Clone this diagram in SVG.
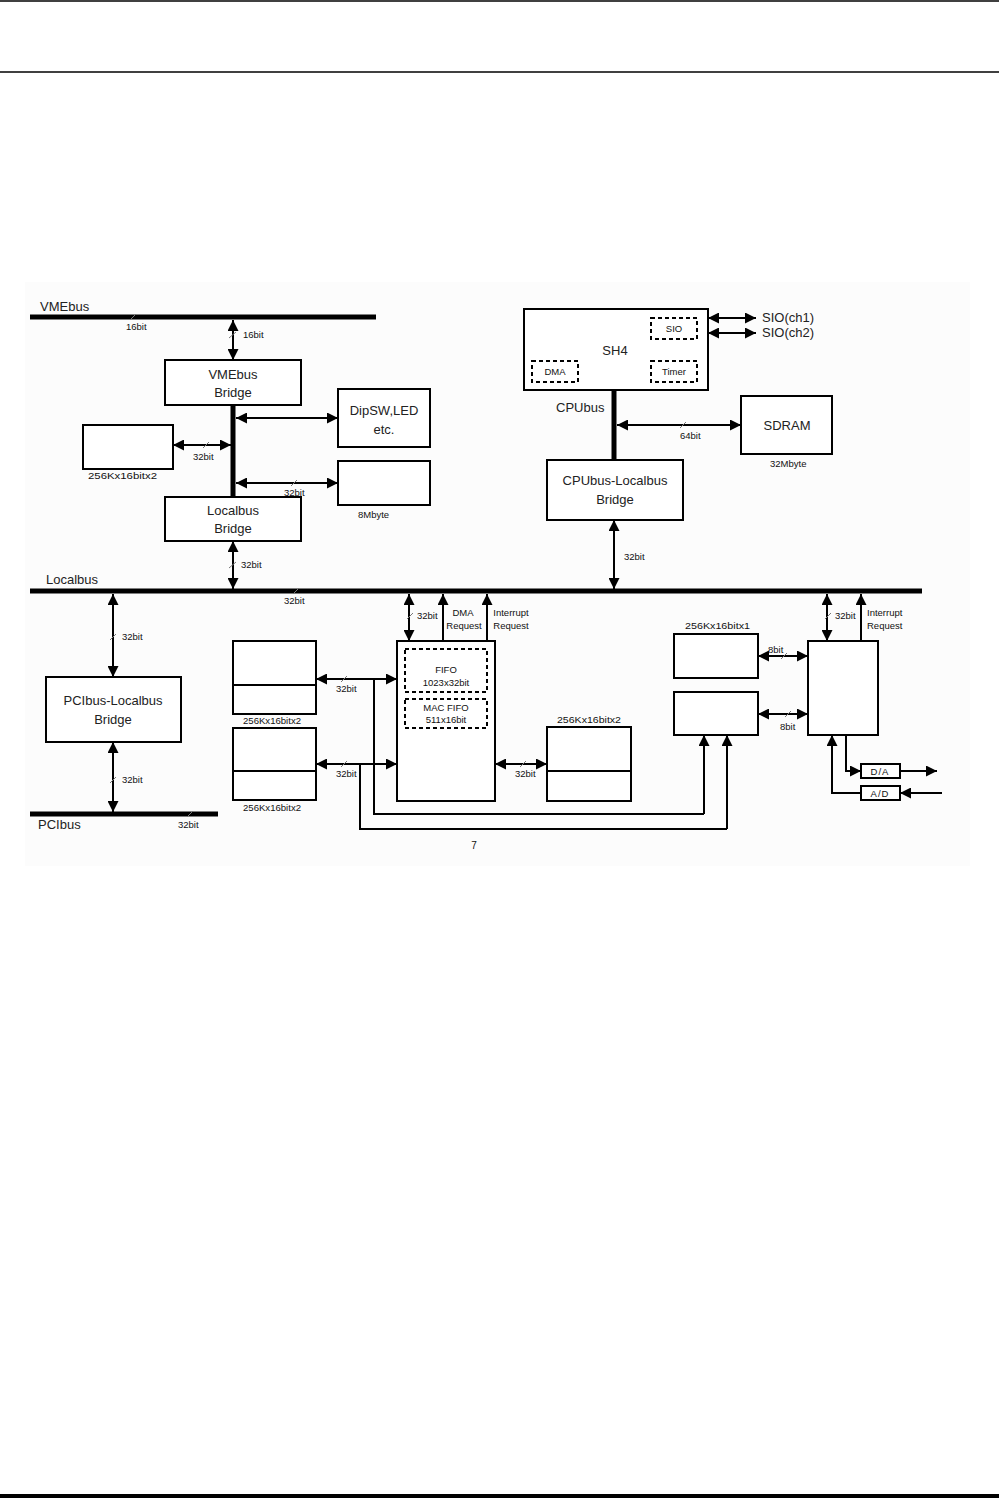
<svg xmlns="http://www.w3.org/2000/svg" width="999" height="1498" viewBox="0 0 999 1498">
<defs>
<marker id="ah" viewBox="0 0 10 10" refX="10" refY="5" markerWidth="11" markerHeight="11" markerUnits="userSpaceOnUse" orient="auto-start-reverse"><path d="M0,0 L10,5 L0,10 z" fill="#000"/></marker>
<style>
.bx{fill:#fff;stroke:#000;stroke-width:2}
.ds{fill:none;stroke:#000;stroke-width:2;stroke-dasharray:4,3}
.bus{stroke:#000;stroke-width:5;fill:none}
.ln{stroke:#000;stroke-width:2;fill:none}
.a2{stroke:#000;stroke-width:2;fill:none;marker-start:url(#ah);marker-end:url(#ah)}
.a1{stroke:#000;stroke-width:2;fill:none;marker-end:url(#ah)}
.tk{stroke:#777;stroke-width:1}
.t{font-family:"Liberation Sans","Noto Sans CJK JP",sans-serif;font-size:13px;fill:#222}
.tc{font-family:"Liberation Sans","Noto Sans CJK JP",sans-serif;font-size:13px;fill:#222;text-anchor:middle}
.s{font-family:"Liberation Sans","Noto Sans CJK JP",sans-serif;font-size:9.5px;fill:#111}
.sc{font-family:"Liberation Sans","Noto Sans CJK JP",sans-serif;font-size:9.5px;fill:#111;text-anchor:middle}
</style>
</defs>
<rect x="0" y="0" width="999" height="1498" fill="#fff"/>
<line x1="0" y1="1" x2="999" y2="1" stroke="#000" stroke-width="1.5"/>
<line x1="0" y1="72" x2="999" y2="72" stroke="#000" stroke-width="1.5"/>
<rect x="0" y="1494" width="999" height="4" fill="#000"/>
<rect x="25" y="282" width="945" height="584" fill="#fcfcfc"/>

<g id="connectors">
<line class="bus" x1="30" y1="317" x2="376" y2="317"/>
<line class="bus" x1="30" y1="591" x2="922" y2="591"/>
<line class="bus" x1="30" y1="814" x2="218" y2="814"/>
<line class="bus" x1="233" y1="405" x2="233" y2="497"/>
<line class="bus" x1="614" y1="390" x2="614" y2="460"/>
<line class="a2" x1="233" y1="320" x2="233" y2="360"/>
<line class="a2" x1="236" y1="418" x2="338" y2="418"/>
<line class="a2" x1="173" y1="445" x2="231" y2="445"/>
<line class="a2" x1="236" y1="483" x2="338" y2="483"/>
<line class="a2" x1="233" y1="541" x2="233" y2="589"/>
<line class="a2" x1="708" y1="318" x2="756" y2="318"/>
<line class="a2" x1="708" y1="333" x2="756" y2="333"/>
<line class="a2" x1="617" y1="425" x2="741" y2="425"/>
<line class="a2" x1="614" y1="520" x2="614" y2="589"/>
<line class="a2" x1="113" y1="594" x2="113" y2="677"/>
<line class="a2" x1="113" y1="742" x2="113" y2="812"/>
<line class="a2" x1="409" y1="594" x2="409" y2="641"/>
<line class="a1" x1="443" y1="641" x2="443" y2="594"/>
<line class="a1" x1="487" y1="641" x2="487" y2="594"/>
<line class="a2" x1="316" y1="679" x2="397" y2="679"/>
<line class="a2" x1="316" y1="764" x2="397" y2="764"/>
<line class="a2" x1="495" y1="764" x2="547" y2="764"/>
<path class="ln" d="M374,679 V814 H704"/>
<line class="a1" x1="704" y1="814" x2="704" y2="735"/>
<path class="ln" d="M360,764 V829 H727"/>
<line class="a1" x1="727" y1="829" x2="727" y2="735"/>
<line class="a2" x1="758" y1="656" x2="808" y2="656"/>
<line class="a2" x1="758" y1="714" x2="808" y2="714"/>
<line class="a2" x1="827" y1="594" x2="827" y2="641"/>
<line class="a1" x1="861" y1="641" x2="861" y2="594"/>
<path class="a1" d="M846,735 V771 H861"/>
<line class="a1" x1="900" y1="771" x2="937" y2="771"/>
<line class="a1" x1="942" y1="793" x2="900" y2="793"/>
<path class="a1" d="M861,793 H832 V735"/>
<g>
<line class="tk" x1="130" y1="320" x2="136" y2="314"/>
<line class="tk" x1="229" y1="338" x2="236" y2="332"/>
<line class="tk" x1="203" y1="448" x2="209" y2="442"/>
<line class="tk" x1="291" y1="486" x2="297" y2="480"/>
<line class="tk" x1="229" y1="568" x2="236" y2="562"/>
<line class="tk" x1="293" y1="594" x2="299" y2="588"/>
<line class="tk" x1="680" y1="428" x2="686" y2="422"/>
<line class="tk" x1="110" y1="640" x2="116" y2="634"/>
<line class="tk" x1="110" y1="783" x2="116" y2="777"/>
<line class="tk" x1="187" y1="817" x2="193" y2="811"/>
<line class="tk" x1="407" y1="619" x2="413" y2="613"/>
<line class="tk" x1="341" y1="682" x2="347" y2="676"/>
<line class="tk" x1="341" y1="767" x2="347" y2="761"/>
<line class="tk" x1="520" y1="767" x2="526" y2="761"/>
<line class="tk" x1="781" y1="659" x2="787" y2="653"/>
<line class="tk" x1="785" y1="717" x2="791" y2="711"/>
<line class="tk" x1="825" y1="619" x2="831" y2="613"/>
</g>
</g>

<g id="labels">
<text class="t" x="40" y="311">VMEbus</text>
<text class="s" x="126" y="330">16bit</text>
<text class="s" x="243" y="338">16bit</text>
<text class="s" x="193" y="460">32bit</text>
<text class="s" x="284" y="496">32bit</text>
<text class="s" x="241" y="568">32bit</text>
<text class="t" x="46" y="584">Localbus</text>
<text class="s" x="284" y="604">32bit</text>
<text class="t" x="762" y="322">SIO(ch1)</text>
<text class="t" x="762" y="337">SIO(ch2)</text>
<text class="t" x="556" y="412">CPUbus</text>
<text class="s" x="680" y="439">64bit</text>
<text class="s" x="624" y="560">32bit</text>
<text class="s" x="122" y="640">32bit</text>
<text class="s" x="122" y="783">32bit</text>
<text class="t" x="38" y="829">PCIbus</text>
<text class="s" x="178" y="828">32bit</text>
<text class="s" x="417" y="619">32bit</text>
<text class="sc" x="463" y="616">DMA</text>
<text class="sc" x="464" y="629">Request</text>
<text class="sc" x="511" y="616">Interrupt</text>
<text class="sc" x="511" y="629">Request</text>
<text class="s" x="336" y="692">32bit</text>
<text class="s" x="336" y="777">32bit</text>
<text class="s" x="515" y="777">32bit</text>
<text class="s" x="768" y="653">8bit</text>
<text class="s" x="780" y="730">8bit</text>
<text class="s" x="835" y="619">32bit</text>
<text class="s" x="867" y="616">Interrupt</text>
<text class="s" x="867" y="629">Request</text>
<text class="sc" x="474" y="849" style="font-size:10px">7</text>
</g>

<g id="vmebus-bridge">
<rect class="bx" x="165" y="360" width="136" height="45"/>
<text class="tc" x="233" y="379">VMEbus</text>
<text class="tc" x="233" y="397">Bridge</text>
</g>
<g id="dipsw">
<rect class="bx" x="338" y="389" width="92" height="58"/>
<text class="tc" x="384" y="415">DipSW,LED</text>
<text class="tc" x="384" y="434">etc.</text>
</g>
<g id="mem-vme">
<rect class="bx" x="83" y="425" width="90" height="44"/>
<text class="s" x="88" y="479" textLength="69" lengthAdjust="spacingAndGlyphs">256Kx16bitx2</text>
</g>
<g id="mem-8m">
<rect class="bx" x="338" y="461" width="92" height="44"/>
<text class="s" x="358" y="518">8Mbyte</text>
</g>
<g id="localbus-bridge">
<rect class="bx" x="165" y="497" width="136" height="44"/>
<text class="tc" x="233" y="515">Localbus</text>
<text class="tc" x="233" y="533">Bridge</text>
</g>
<g id="sh4">
<rect class="bx" x="524" y="309" width="184" height="81"/>
<text class="tc" x="615" y="355">SH4</text>
<rect class="ds" x="651" y="318" width="46" height="21"/>
<text class="sc" x="674" y="332">SIO</text>
<rect class="ds" x="532" y="361" width="46" height="21"/>
<text class="sc" x="555" y="375">DMA</text>
<rect class="ds" x="651" y="361" width="46" height="21"/>
<text class="sc" x="674" y="375">Timer</text>
</g>
<g id="sdram">
<rect class="bx" x="741" y="396" width="91" height="58"/>
<text class="tc" x="787" y="430">SDRAM</text>
<text class="s" x="770" y="467">32Mbyte</text>
</g>
<g id="cpubus-bridge">
<rect class="bx" x="547" y="460" width="136" height="60"/>
<text class="tc" x="615" y="485">CPUbus-Localbus</text>
<text class="tc" x="615" y="504">Bridge</text>
</g>
<g id="pci-bridge">
<rect class="bx" x="46" y="677" width="135" height="65"/>
<text class="tc" x="113" y="705">PCIbus-Localbus</text>
<text class="tc" x="113" y="724">Bridge</text>
</g>
<g id="mem-left-1">
<rect class="bx" x="233" y="641" width="83" height="73"/>
<line class="ln" x1="233" y1="685" x2="316" y2="685"/>
<text class="s" x="243" y="724" textLength="58" lengthAdjust="spacingAndGlyphs">256Kx16bitx2</text>
</g>
<g id="mem-left-2">
<rect class="bx" x="233" y="728" width="83" height="72"/>
<line class="ln" x1="233" y1="771" x2="316" y2="771"/>
<text class="s" x="243" y="811" textLength="58" lengthAdjust="spacingAndGlyphs">256Kx16bitx2</text>
</g>
<g id="fifo-chip">
<rect class="bx" x="397" y="641" width="98" height="160"/>
<rect class="ds" x="405" y="649" width="82" height="43"/>
<text class="sc" x="446" y="673">FIFO</text>
<text class="sc" x="446" y="686">1023x32bit</text>
<rect class="ds" x="405" y="699" width="82" height="29"/>
<text class="sc" x="446" y="711">MAC FIFO</text>
<text class="sc" x="446" y="723">511x16bit</text>
</g>
<g id="mem-right">
<rect class="bx" x="547" y="727" width="84" height="74"/>
<line class="ln" x1="547" y1="771" x2="631" y2="771"/>
<text class="s" x="557" y="723" textLength="64" lengthAdjust="spacingAndGlyphs">256Kx16bitx2</text>
</g>
<g id="mem-x1">
<rect class="bx" x="674" y="634" width="84" height="44"/>
<text class="s" x="685" y="629" textLength="65" lengthAdjust="spacingAndGlyphs">256Kx16bitx1</text>
</g>
<g id="box-lower">
<rect class="bx" x="674" y="692" width="84" height="43"/>
</g>
<g id="io-chip">
<rect class="bx" x="808" y="641" width="70" height="94"/>
</g>
<g id="da">
<rect class="bx" x="861" y="764" width="39" height="14"/>
<text class="sc" x="880" y="775" style="letter-spacing:1px">D/A</text>
</g>
<g id="ad">
<rect class="bx" x="861" y="786" width="39" height="14"/>
<text class="sc" x="880" y="797" style="letter-spacing:1px">A/D</text>
</g>
</svg>
